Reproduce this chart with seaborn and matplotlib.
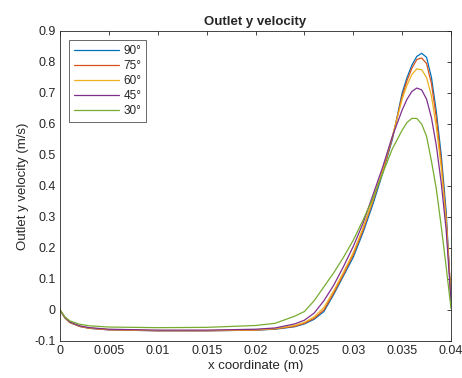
import seaborn as sns
import matplotlib.pyplot as plt
import pandas as pd

x = [0, 0.0005, 0.001, 0.002, 0.003, 0.005, 0.01, 0.015, 0.02, 0.022, 0.024,
     0.025, 0.026, 0.027, 0.028, 0.029, 0.03, 0.031, 0.032, 0.033, 0.034,
     0.035, 0.0355, 0.036, 0.0365, 0.037, 0.0375, 0.038, 0.0385, 0.039,
     0.0395, 0.04]

v90 = [0.0, -0.025, -0.04, -0.053, -0.059, -0.064, -0.067, -0.067, -0.065, -0.062, -0.054,
       -0.045, -0.03, -0.005, 0.05, 0.11, 0.17, 0.25, 0.34, 0.44, 0.55,
       0.70, 0.75, 0.79, 0.818, 0.828, 0.815, 0.75, 0.64, 0.50,
       0.32, 0.03]
v75 = [0.0, -0.025, -0.04, -0.053, -0.059, -0.064, -0.067, -0.067, -0.065, -0.061, -0.053,
       -0.043, -0.027, 0.0, 0.055, 0.115, 0.178, 0.258, 0.35, 0.445, 0.555,
       0.69, 0.74, 0.78, 0.808, 0.813, 0.795, 0.73, 0.62, 0.48,
       0.30, 0.04]
v60 = [0.0, -0.025, -0.04, -0.052, -0.058, -0.063, -0.066, -0.066, -0.064, -0.06, -0.05,
       -0.04, -0.022, 0.008, 0.062, 0.122, 0.185, 0.265, 0.355, 0.45, 0.56,
       0.68, 0.725, 0.76, 0.778, 0.775, 0.75, 0.69, 0.59, 0.46,
       0.29, 0.04]
v45 = [0.0, -0.024, -0.039, -0.051, -0.057, -0.062, -0.065, -0.065, -0.062, -0.058, -0.045,
       -0.033, -0.01, 0.03, 0.08, 0.14, 0.205, 0.28, 0.37, 0.46, 0.56,
       0.645, 0.68, 0.705, 0.716, 0.71, 0.68, 0.62, 0.53, 0.41,
       0.26, 0.03]
v30 = [0.0, -0.022, -0.035, -0.046, -0.051, -0.055, -0.057, -0.056, -0.05, -0.043, -0.02,
       -0.005, 0.03, 0.075, 0.12, 0.17, 0.225, 0.29, 0.36, 0.44, 0.52,
       0.58, 0.605, 0.618, 0.618, 0.6, 0.56, 0.48, 0.39, 0.27,
       0.14, 0.005]

labels = ['90°', '75°', '60°', '45°', '30°']
series = [v90, v75, v60, v45, v30]
colors = ['#0072BD', '#D95319', '#EDB120', '#7E2F8E', '#77AC30']

rows = []
for lab, vals in zip(labels, series):
    for xi, yi in zip(x, vals):
        rows.append({'x': xi, 'v': yi, 'angle': lab})
df = pd.DataFrame(rows)

sns.set_style('white')
plt.rcParams['font.family'] = ['Liberation Sans', 'DejaVu Sans']

fig = plt.figure(figsize=(4.62, 3.78), dpi=100)
ax = fig.add_axes([0.1299, 0.0979, 0.8463, 0.8201])

sns.lineplot(data=df, x='x', y='v', hue='angle', hue_order=labels,
             palette=colors, linewidth=0.9, ax=ax)

ax.set_xlim(0, 0.04)
ax.set_ylim(-0.1, 0.9)
ax.set_xticks([0, 0.005, 0.01, 0.015, 0.02, 0.025, 0.03, 0.035, 0.04])
ax.set_xticklabels(['0', '0.005', '0.01', '0.015', '0.02', '0.025', '0.03', '0.035', '0.04'])
ax.set_yticks([-0.1, 0, 0.1, 0.2, 0.3, 0.4, 0.5, 0.6, 0.7, 0.8, 0.9])
ax.set_yticklabels(['-0.1', '0', '0.1', '0.2', '0.3', '0.4', '0.5', '0.6', '0.7', '0.8', '0.9'])
ax.tick_params(direction='in', length=3, width=0.6, colors='#262626',
               labelsize=9, top=True, right=True, pad=3)
for s in ax.spines.values():
    s.set_color('#262626')
    s.set_linewidth(0.6)

ax.set_xlabel('x coordinate (m)', fontsize=9.5, color='#262626', labelpad=2)
ax.set_ylabel('Outlet y velocity (m/s)', fontsize=9.5, color='#262626', labelpad=4)
ax.set_title('Outlet y velocity', fontsize=9.5, fontweight='bold', pad=4)

leg = ax.legend(loc='upper left', fontsize=8.5, frameon=True, fancybox=False,
                handlelength=3.8, borderaxespad=0.8, labelspacing=0.25,
                handletextpad=0.4, borderpad=0.4)
leg.get_frame().set_edgecolor('#262626')
leg.get_frame().set_linewidth(0.6)

plt.savefig('out.png', dpi=100)
